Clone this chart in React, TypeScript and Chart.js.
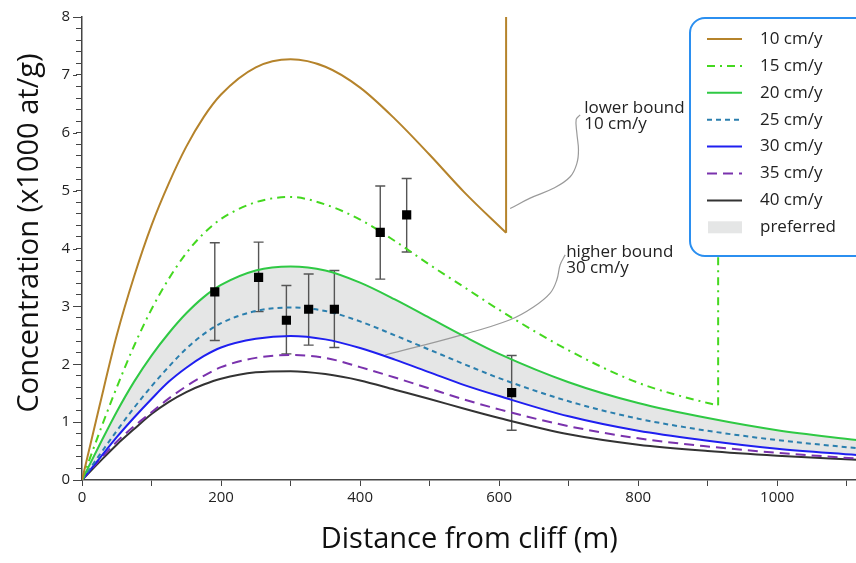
import React, { useEffect, useRef } from 'react';
import { Chart, registerables } from 'chart.js';

Chart.register(...registerables);

// ---- data ----
const distances = [0, 25, 50, 75, 100, 125, 150, 175, 200, 250, 300, 350, 400, 450, 500, 550, 600, 700, 800, 900, 1000, 1114];

const dist10 = [0, 25, 50, 75, 100, 125, 150, 175, 200, 250, 300, 350, 400, 450, 500, 550, 610];
const conc10 = [0, 1.27, 2.5, 3.52, 4.4, 5.13, 5.76, 6.27, 6.66, 7.13, 7.27, 7.14, 6.78, 6.24, 5.62, 4.97, 4.27];

const dist15 = [0, 25, 50, 75, 100, 125, 150, 175, 200, 250, 300, 350, 400, 450, 500, 550, 600, 700, 800, 900, 915];
const conc15 = [0, 0.82, 1.6, 2.32, 2.95, 3.48, 3.92, 4.26, 4.51, 4.8, 4.89, 4.76, 4.5, 4.13, 3.72, 3.33, 2.94, 2.24, 1.68, 1.33, 1.29];

const conc20 = [0, 0.6, 1.18, 1.7, 2.15, 2.54, 2.88, 3.16, 3.37, 3.62, 3.69, 3.62, 3.41, 3.12, 2.8, 2.48, 2.18, 1.69, 1.33, 1.07, 0.86, 0.69];
const conc25 = [0, 0.43, 0.85, 1.25, 1.62, 1.96, 2.27, 2.52, 2.71, 2.92, 2.98, 2.92, 2.74, 2.5, 2.25, 2.0, 1.76, 1.36, 1.06, 0.85, 0.69, 0.55];
const conc30 = [0, 0.37, 0.74, 1.08, 1.4, 1.7, 1.94, 2.14, 2.29, 2.44, 2.49, 2.43, 2.28, 2.08, 1.86, 1.64, 1.45, 1.1, 0.85, 0.68, 0.54, 0.43];
const conc35 = [0, 0.34, 0.66, 0.93, 1.17, 1.41, 1.62, 1.8, 1.95, 2.11, 2.16, 2.11, 1.95, 1.77, 1.58, 1.39, 1.22, 0.93, 0.72, 0.58, 0.47, 0.37];
const conc40 = [0, 0.31, 0.61, 0.88, 1.14, 1.35, 1.52, 1.65, 1.75, 1.86, 1.88, 1.83, 1.72, 1.56, 1.4, 1.23, 1.07, 0.79, 0.61, 0.5, 0.42, 0.35];

// validity cut-off of the 10 and 15 cm/y models: [distance, from, to]
const cutoff10 = [610, 4.27, 8.6];
const cutoff15 = [915, 1.29, 8.6];

// samples
const sampleX = [191, 254, 294, 326, 363, 429, 467, 618];
const sampleY = [3.25, 3.5, 2.76, 2.95, 2.95, 4.28, 4.58, 1.51];
const sampleLow = [2.41, 2.91, 2.18, 2.33, 2.29, 3.47, 3.94, 0.86];
const sampleHigh = [4.1, 4.11, 3.36, 3.56, 3.62, 5.08, 5.21, 2.15];

// annotation leaders (data coordinates)
const lowerLeaderX = [716.5, 710.8, 711.8, 714.1, 711.8, 702.2, 678.1, 644.6, 615.8];
const lowerLeaderY = [6.31, 6.23, 5.99, 5.7, 5.47, 5.24, 5.04, 4.87, 4.69];
const higherLeaderX = [695.0, 687.8, 683.0, 673.4, 649.4, 615.8, 543.9, 436.0];
const higherLeaderY = [3.89, 3.72, 3.46, 3.23, 2.99, 2.77, 2.5, 2.16];
const lowerLabel = ['lower bound', '10 cm/y'];
const higherLabel = ['higher bound', '30 cm/y'];
const lowerLabelPos = [722.3, 6.43];
const higherLabelPos = [696.4, 3.94];

const seriesLabels = ['10 cm/y', '15 cm/y', '20 cm/y', '25 cm/y', '30 cm/y', '35 cm/y', '40 cm/y'];
const preferredLabel = 'preferred';
const xTicks = [0, 200, 400, 600, 800, 1000];
const yTicks = [0, 1, 2, 3, 4, 5, 6, 7, 8];
const xTitle = 'Distance from cliff (m)';
const yTitle = 'Concentration (x1000 at/g)';

// ---- styles ----
const colors = ['#b5832b', '#44d81f', '#2fc944', '#2b7fae', '#1f1ff0', '#7a32ad', '#333333'];
const dashes: number[][] = [[], [8, 5, 2, 5], [], [5, 4], [], [10, 6], []];
const fillColor = '#e5e6e6';
const FONT = '"Open Sans", "Noto Sans", sans-serif';

export default function App() {
  const ref = useRef<HTMLCanvasElement>(null);

  useEffect(() => {
    const canvas = ref.current;
    if (!canvas) return;
    const pairs = (xs: number[], ys: number[]) => xs.map((x, i) => ({ x, y: ys[i] }));
    const xy = (ys: number[]) => pairs(distances, ys);
    const curve = (i: number, data: any[], extra: any = {}) => ({
      type: 'line',
      label: seriesLabels[i],
      data,
      borderColor: colors[i],
      backgroundColor: colors[i],
      borderWidth: 2,
      borderDash: dashes[i],
      pointRadius: 0,
      cubicInterpolationMode: 'monotone',
      fill: false,
      ...extra,
    });
    const vertical = (i: number, c: number[]) =>
      curve(i, [{ x: c[0], y: c[1] }, { x: c[0], y: c[2] }], { cubicInterpolationMode: 'default', tension: 0 });
    const leader = (data: any[]) => ({
      type: 'line',
      label: '',
      data,
      borderColor: '#9a9a9a',
      borderWidth: 1.2,
      pointRadius: 0,
      tension: 0.4,
      fill: false,
    });

    const errorBars = {
      id: 'errorBars',
      beforeDatasetsDraw(chart: any) {
        const { ctx, scales } = chart;
        const xs = scales.x, ys = scales.y;
        ctx.save();
        ctx.strokeStyle = '#555';
        ctx.lineWidth = 1.4;
        sampleX.forEach((sx, i) => {
          const px = xs.getPixelForValue(sx);
          const lo = ys.getPixelForValue(sampleLow[i]);
          const hi = ys.getPixelForValue(sampleHigh[i]);
          ctx.beginPath();
          ctx.moveTo(px, lo); ctx.lineTo(px, hi);
          ctx.moveTo(px - 5, lo); ctx.lineTo(px + 5, lo);
          ctx.moveTo(px - 5, hi); ctx.lineTo(px + 5, hi);
          ctx.stroke();
        });
        ctx.restore();
      },
    };

    const overlay = {
      id: 'overlay',
      afterDraw(chart: any) {
        const { ctx, scales, chartArea } = chart;
        const xs = scales.x, ys = scales.y;
        ctx.save();

        // longer marks for the labelled y ticks
        ctx.strokeStyle = '#444';
        ctx.lineWidth = 1;
        yTicks.forEach((t) => {
          const py = Math.round(ys.getPixelForValue(t)) + 0.5;
          ctx.beginPath();
          ctx.moveTo(chartArea.left - 9, py);
          ctx.lineTo(chartArea.left - 5, py);
          ctx.stroke();
        });

        ctx.fillStyle = '#222';
        ctx.font = `17px ${FONT}`;
        ctx.textAlign = 'left';
        ctx.textBaseline = 'middle';
        const drawLabel = (lines: string[], pos: number[]) => {
          const px = xs.getPixelForValue(pos[0]);
          const py = ys.getPixelForValue(pos[1]);
          lines.forEach((t, i) => ctx.fillText(t, px, py + i * 16));
        };
        drawLabel(lowerLabel, lowerLabelPos);
        drawLabel(higherLabel, higherLabelPos);

        // legend box
        const bx = 690, by = 18, bw = 190, bh = 238, r = 15;
        ctx.beginPath();
        ctx.moveTo(bx + r, by);
        ctx.lineTo(bx + bw - r, by);
        ctx.arcTo(bx + bw, by, bx + bw, by + r, r);
        ctx.lineTo(bx + bw, by + bh - r);
        ctx.arcTo(bx + bw, by + bh, bx + bw - r, by + bh, r);
        ctx.lineTo(bx + r, by + bh);
        ctx.arcTo(bx, by + bh, bx, by + bh - r, r);
        ctx.lineTo(bx, by + r);
        ctx.arcTo(bx, by, bx + r, by, r);
        ctx.closePath();
        ctx.fillStyle = '#ffffff';
        ctx.fill();
        ctx.strokeStyle = '#2b8ff0';
        ctx.lineWidth = 2;
        ctx.stroke();

        const rowY = (i: number) => 39 + i * 26.9;
        seriesLabels.forEach((lab, i) => {
          const y = rowY(i);
          ctx.beginPath();
          ctx.setLineDash(dashes[i]);
          ctx.strokeStyle = colors[i];
          ctx.lineWidth = 2;
          ctx.moveTo(707, y);
          ctx.lineTo(742, y);
          ctx.stroke();
          ctx.setLineDash([]);
          ctx.fillStyle = '#222';
          ctx.font = `17px ${FONT}`;
          ctx.fillText(lab, 760, y);
        });
        const py = rowY(7);
        ctx.fillStyle = fillColor;
        ctx.fillRect(708, py - 6, 34, 12);
        ctx.fillStyle = '#222';
        ctx.fillText(preferredLabel, 760, py);

        // axis titles
        ctx.fillStyle = '#111';
        ctx.font = `29px ${FONT}`;
        ctx.textAlign = 'center';
        ctx.textBaseline = 'middle';
        ctx.fillText(xTitle, (chartArea.left + chartArea.right) / 2, 540);
        ctx.translate(30, 233);
        ctx.rotate(-Math.PI / 2);
        ctx.fillText(yTitle, 0, 0);
        ctx.restore();
      },
    };

    const isMajor = (v: number, list: number[]) => list.some((t) => Math.abs(t - v) < 1e-6);

    const chart = new Chart(canvas, {
      type: 'line',
      data: {
        datasets: [
          {
            type: 'scatter',
            label: 'samples',
            data: pairs(sampleX, sampleY),
            pointStyle: 'rect',
            pointRadius: 6.5,
            backgroundColor: '#000',
            borderWidth: 0,
            showLine: false,
          },
          curve(0, pairs(dist10, conc10)),
          vertical(0, cutoff10),
          curve(1, pairs(dist15, conc15)),
          vertical(1, cutoff15),
          curve(2, xy(conc20), { fill: '+2', backgroundColor: fillColor }),
          curve(3, xy(conc25)),
          curve(4, xy(conc30)),
          curve(5, xy(conc35)),
          curve(6, xy(conc40)),
          leader(pairs(lowerLeaderX, lowerLeaderY)),
          leader(pairs(higherLeaderX, higherLeaderY)),
        ] as any,
      },
      options: {
        responsive: false,
        animation: false,
        events: [],
        devicePixelRatio: 1,
        layout: { padding: { top: 17, left: 0, right: 0, bottom: 0 } },
        plugins: {
          legend: { display: false },
          tooltip: { enabled: false },
          filler: { drawTime: 'beforeDatasetsDraw' },
        },
        scales: {
          x: {
            type: 'linear',
            min: 0,
            max: 1114,
            afterFit: (s: any) => { s.height = 83; s.paddingLeft = 0; s.paddingRight = 0; },
            ticks: {
              stepSize: 100,
              includeBounds: false,
              autoSkip: false,
              maxRotation: 0,
              padding: 3,
              color: '#222',
              font: { family: FONT, size: 15 },
              callback: (v: any) => (isMajor(Number(v), xTicks) ? String(v) : ''),
            },
            grid: { display: true, drawOnChartArea: false, drawTicks: true, tickLength: 6, color: '#444', lineWidth: 1 },
            border: { display: true, color: '#444', width: 1.5 },
          },
          y: {
            type: 'linear',
            min: 0,
            max: 8,
            afterFit: (s: any) => { s.width = 82; },
            ticks: {
              stepSize: 0.2,
              autoSkip: false,
              padding: 6,
              color: '#222',
              font: { family: FONT, size: 15 },
              callback: (v: any) => (isMajor(Number(v), yTicks) ? String(Math.round(Number(v))) : ''),
            },
            grid: { display: true, drawOnChartArea: false, drawTicks: true, tickLength: 6, color: '#444', lineWidth: 1 },
            border: { display: true, color: '#444', width: 1.5 },
          },
        },
      } as any,
      plugins: [errorBars, overlay],
    });

    return () => chart.destroy();
  }, []);

  return (
    <div style={{ position: 'fixed', left: 0, top: 0, width: 856, height: 563, overflow: 'hidden', background: '#fff' }}>
      <canvas ref={ref} width={863} height={563} style={{ display: 'block', width: 863, height: 563 }} />
    </div>
  );
}
